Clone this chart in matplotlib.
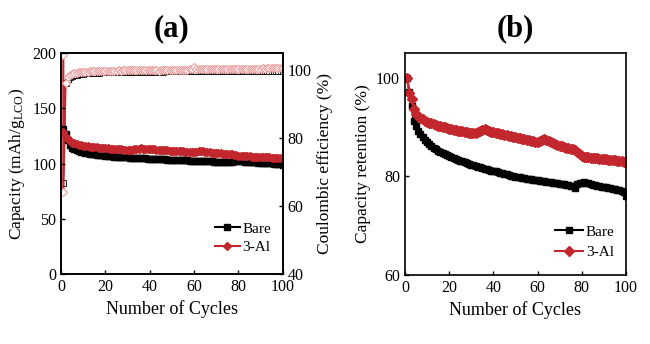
import numpy as np
import matplotlib.pyplot as plt

plt.rcParams['font.family'] = ['Liberation Serif', 'DejaVu Serif']
plt.rcParams['mathtext.fontset'] = 'custom'
plt.rcParams['mathtext.rm'] = 'Liberation Serif'
plt.rcParams['mathtext.it'] = 'Liberation Serif'

# Datos
cycles = np.arange(1, 101)

cap_bare = [131.0, 127.0, 121.0, 117.0, 114.5, 113.0, 112.0, 111.3, 110.7, 110.2,
            109.8, 109.4, 109.0, 108.7, 108.4, 108.1, 107.8, 107.6, 107.3, 107.1,
            106.9, 106.7, 106.5, 106.3, 106.2, 106.0, 105.9, 105.7, 105.6, 105.5,
            105.3, 105.2, 105.1, 105.0, 104.9, 104.8, 104.7, 104.6, 104.5, 104.4,
            104.3, 104.2, 104.1, 104.0, 103.9, 103.8, 103.7, 103.6, 103.5, 103.4,
            103.3, 103.2, 103.1, 103.0, 102.9, 102.9, 102.8, 102.7, 102.6, 102.5,
            102.4, 102.4, 102.3, 102.2, 102.1, 102.1, 102.0, 101.9, 101.8, 101.8,
            101.7, 101.6, 101.5, 101.5, 101.4, 101.3, 101.0, 101.9, 102.1, 102.1,
            102.0, 101.9, 101.7, 101.5, 101.4, 101.3, 101.1, 101.0, 100.9, 100.8,
            100.6, 100.6, 100.4, 100.2, 100.1, 100.0, 99.8, 99.7, 99.5, 98.9]

cap_al = [128.5, 124.0, 122.0, 120.0, 119.0, 118.2, 117.6, 117.1, 116.7, 116.3,
          116.0, 115.7, 115.4, 115.1, 114.9, 114.7, 114.5, 114.3, 114.1, 113.9,
          113.7, 113.6, 113.4, 113.3, 113.1, 113.0, 112.8, 112.7, 112.5, 112.6,
          112.5, 112.7, 112.9, 113.3, 113.6, 113.8, 113.6, 113.4, 113.2, 113.0,
          112.9, 112.8, 112.6, 112.5, 112.3, 112.2, 112.1, 111.9, 111.8, 111.6,
          111.5, 111.4, 111.2, 111.1, 111.0, 110.8, 110.7, 110.6, 110.4, 110.5,
          110.8, 111.0, 111.2, 111.1, 110.8, 110.5, 110.2, 110.0, 109.7, 109.5,
          109.4, 109.2, 109.1, 108.9, 108.9, 108.8, 108.6, 108.2, 107.6, 107.1,
          106.8, 106.7, 106.6, 106.5, 106.4, 106.3, 106.2, 106.1, 106.0, 105.9,
          105.8, 105.7, 105.6, 105.5, 105.4, 105.3, 105.2, 105.1, 105.0, 104.9]

ce_bare = [66.8, 96.3, 97.4, 97.9, 98.2, 98.4, 98.6, 98.7, 98.8, 98.9,
           99.0, 99.0, 99.1, 99.1, 99.2, 99.2, 99.2, 99.3, 99.3, 99.3,
           99.3, 99.4, 99.4, 99.4, 99.4, 99.4, 99.5, 99.5, 99.3, 99.5,
           99.5, 99.5, 99.5, 99.5, 99.5, 99.5, 99.5, 99.6, 99.5, 99.5,
           99.5, 99.6, 99.5, 99.6, 99.6, 99.5, 99.6, 99.6, 99.6, 99.6,
           99.6, 99.6, 99.6, 99.6, 99.6, 99.6, 99.6, 99.6, 99.6, 99.7,
           99.6, 99.6, 99.6, 99.7, 99.6, 99.7, 99.6, 99.7, 99.7, 99.7,
           99.7, 99.7, 99.7, 99.7, 99.7, 99.7, 99.7, 99.6, 99.7, 99.7,
           99.7, 99.7, 99.8, 99.7, 99.8, 99.7, 99.8, 99.8, 99.7, 99.8,
           99.8, 99.8, 99.8, 99.8, 99.8, 99.8, 99.8, 99.8, 99.8, 99.8]

ce_al_cycles = [1] + list(range(1, 101))
ce_al = [104.5,
         64.0, 96.2, 97.8, 98.4, 98.8, 99.0, 99.2, 99.3, 99.4, 99.4,
         99.5, 99.5, 99.6, 99.6, 99.6, 99.7, 99.7, 99.7, 99.7, 99.8,
         99.8, 99.8, 99.8, 99.8, 99.8, 99.9, 99.8, 99.9, 99.9, 99.9,
         99.9, 99.9, 99.9, 99.9, 99.9, 99.9, 100.0, 99.9, 100.0, 99.9,
         100.0, 100.0, 100.0, 99.7, 100.0, 100.0, 100.0, 100.1, 100.0, 100.1,
         100.1, 100.1, 100.1, 100.1, 100.1, 100.1, 100.1, 100.2, 100.2, 100.8,
         100.2, 100.2, 100.2, 100.2, 100.2, 100.2, 100.2, 100.2, 100.2, 100.3,
         100.3, 100.3, 100.3, 100.3, 100.3, 100.3, 100.3, 100.2, 100.3, 100.4,
         100.3, 100.4, 100.4, 100.4, 100.4, 100.4, 100.4, 100.4, 100.4, 100.4,
         100.5, 100.4, 100.5, 100.5, 100.5, 100.5, 100.5, 100.5, 100.5, 100.5]

ret_bare = [100.0, 97.0, 94.3, 91.2, 90.2, 89.3, 88.5, 87.9, 87.4, 86.9,
            86.5, 86.1, 85.8, 85.5, 85.2, 84.9, 84.7, 84.5, 84.3, 84.1,
            83.9, 83.7, 83.5, 83.4, 83.2, 83.1, 82.9, 82.8, 82.6, 82.4,
            82.3, 82.2, 82.0, 81.9, 81.8, 81.6, 81.5, 81.4, 81.2, 81.1,
            81.0, 80.8, 80.7, 80.6, 80.5, 80.4, 80.2, 80.1, 80.0, 79.9,
            79.8, 79.8, 79.7, 79.6, 79.5, 79.5, 79.4, 79.3, 79.3, 79.2,
            79.1, 79.1, 79.0, 78.9, 78.9, 78.8, 78.7, 78.6, 78.6, 78.5,
            78.4, 78.4, 78.3, 78.2, 78.1, 78.0, 77.6, 78.4, 78.6, 78.7,
            78.8, 78.7, 78.6, 78.4, 78.3, 78.2, 78.1, 78.0, 77.9, 77.9,
            77.8, 77.7, 77.6, 77.5, 77.4, 77.3, 77.2, 77.0, 76.8, 76.0]

ret_al = [100.0, 96.9, 95.7, 93.6, 92.7, 92.2, 91.9, 91.6, 91.3, 91.1,
          90.9, 90.8, 90.6, 90.5, 90.3, 90.2, 90.1, 90.0, 89.9, 89.7,
          89.6, 89.5, 89.4, 89.3, 89.2, 89.1, 89.0, 88.9, 88.8, 88.7,
          88.7, 88.8, 89.0, 89.2, 89.4, 89.6, 89.4, 89.2, 89.0, 88.9,
          88.8, 88.7, 88.6, 88.5, 88.4, 88.3, 88.2, 88.1, 88.0, 87.9,
          87.8, 87.7, 87.6, 87.5, 87.4, 87.3, 87.2, 87.1, 87.0, 87.0,
          87.2, 87.4, 87.5, 87.4, 87.2, 87.0, 86.8, 86.6, 86.4, 86.2,
          86.1, 86.0, 85.8, 85.7, 85.6, 85.5, 85.3, 85.0, 84.6, 84.2,
          84.0, 83.9, 83.9, 83.8, 83.8, 83.7, 83.7, 83.6, 83.6, 83.5,
          83.5, 83.4, 83.4, 83.3, 83.3, 83.2, 83.2, 83.1, 83.0, 82.9]

rojo = '#c1272d'
rosa = '#e8a0a0'

fig = plt.figure(figsize=(6.5, 3.44), dpi=100)
ax1 = fig.add_axes([0.094, 0.203, 0.341, 0.643])
ax2 = fig.add_axes([0.623, 0.200, 0.340, 0.646])
ax1b = ax1.twinx()

# (a) capacidad y eficiencia
ax1b.plot(cycles, ce_bare, color='black', lw=1.0, marker='s', ms=4,
          mfc='white', mec='black', mew=0.6)
ax1b.plot(ce_al_cycles, ce_al, color=rojo, lw=1.5, marker='D', ms=4,
          mfc='white', mec=rosa, mew=0.8)
ax1b.set_ylim(40, 105)
ax1b.set_yticks([40, 60, 80, 100])
ax1b.set_ylabel('Coulombic efficiency (%)', fontsize=12.5)

ax1.plot(cycles, cap_bare, color='black', lw=1.5, marker='s', ms=4.5, label='Bare')
ax1.plot(cycles, cap_al, color=rojo, lw=1.5, marker='D', ms=4.5, label='3-Al')
ax1.set_zorder(ax1b.get_zorder() + 1)
ax1.patch.set_visible(False)
ax1.set_xlim(0, 100)
ax1.set_ylim(0, 200)
ax1.set_xticks([0, 20, 40, 60, 80, 100])
ax1.set_yticks([0, 50, 100, 150, 200])
ax1.set_xlabel('Number of Cycles', fontsize=13)
ax1.set_ylabel('Capacity (mAh/g$_{\\mathrm{LCO}}$)', fontsize=12.5)
ax1.legend(loc='lower right', bbox_to_anchor=(0.99, 0.05), frameon=False,
           fontsize=11, handlelength=1.6, handletextpad=0.2, labelspacing=0.3,
           borderaxespad=0.2)
ax1.set_title('(a)', fontsize=22, fontweight='bold', pad=12)

# (b) retencion
ax2.plot(cycles, ret_bare, color='black', lw=1.5, marker='s', ms=5, label='Bare')
ax2.plot(cycles, ret_al, color=rojo, lw=1.5, marker='D', ms=5, label='3-Al')
ax2.set_xlim(0, 100)
ax2.set_ylim(60, 105)
ax2.set_xticks([0, 20, 40, 60, 80, 100])
ax2.set_yticks([60, 80, 100])
ax2.set_xlabel('Number of Cycles', fontsize=13)
ax2.set_ylabel('Capacity retention (%)', fontsize=12.5)
ax2.legend(loc='lower right', bbox_to_anchor=(0.99, 0.03), frameon=False,
           fontsize=11, handlelength=1.8, handletextpad=0.2, labelspacing=0.45,
           borderaxespad=0.2)
ax2.set_title('(b)', fontsize=22, fontweight='bold', pad=12)

for ax in (ax1, ax1b, ax2):
    ax.tick_params(direction='in', labelsize=11.5, length=3, width=1)
    for s in ax.spines.values():
        s.set_linewidth(1.2)

fig.savefig('out.png', dpi=100)
